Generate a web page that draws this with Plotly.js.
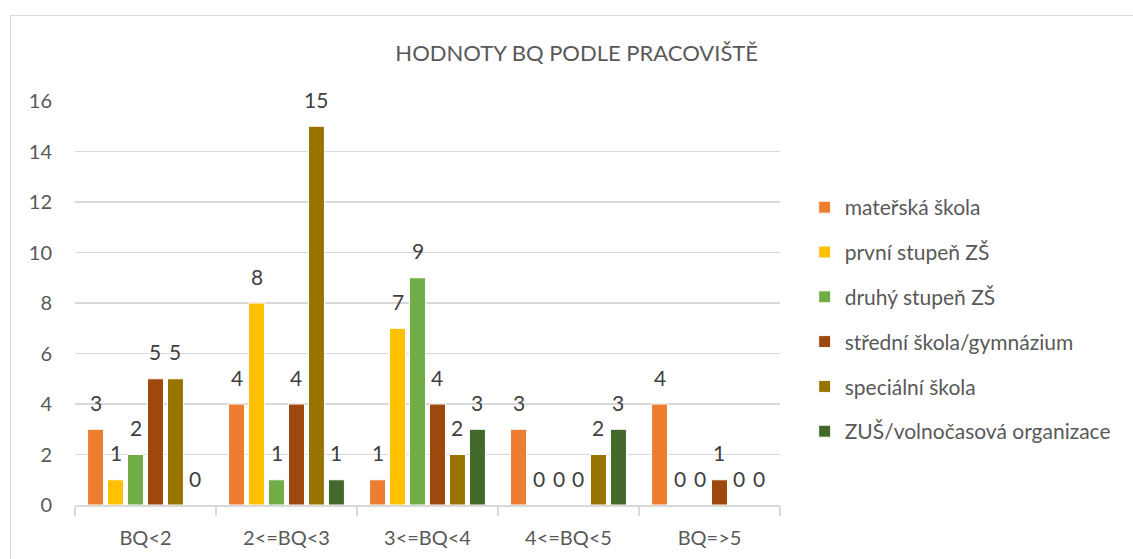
<!DOCTYPE html>
<html><head><meta charset="utf-8">
<script src="https://cdn.plot.ly/plotly-3.0.1.min.js"></script>
<style>
html,body{margin:0;padding:0;background:#fff;}
#frame{position:absolute;left:10px;top:15px;width:1140px;height:560px;border:1px solid #d9d9d9;}
#chart{position:absolute;left:0;top:0;width:1133px;height:559px;}
</style>
</head><body>
<div id="frame"></div>
<div id="chart"></div>
<script>
const categories = ["BQ<2", "2<=BQ<3", "3<=BQ<4", "4<=BQ<5", "BQ=>5"];
const seriesNames = ["mateřská škola", "první stupeň ZŠ", "druhý stupeň ZŠ", "střední škola/gymnázium", "speciální škola", "ZUŠ/volnočasová organizace"];
const materska = [3, 4, 1, 3, 4];
const prvni = [1, 8, 7, 0, 0];
const druhy = [2, 1, 9, 0, 0];
const stredni = [5, 4, 4, 0, 1];
const specialni = [5, 15, 2, 2, 0];
const zus = [0, 1, 3, 3, 0];
const colors = ["#ED7D31", "#FFC000", "#70AD47", "#9E480E", "#997300", "#43682B"];
const allValues = [materska, prvni, druhy, stredni, specialni, zus];

const font = "Lato, 'Open Sans', sans-serif";
const bargap = 0.15;
const nSeries = allValues.length;
const slot = (1 - bargap) / nSeries;

const traces = allValues.map((vals, i) => ({
  type: "bar",
  name: seriesNames[i],
  x: categories,
  y: vals,
  marker: {color: colors[i], line: {color: "#ffffff", width: 1}},
  legendgroup: "g" + i,
  hoverinfo: "x+y+name"
}));

// data labels placed above each bar through the axis scales
const annotations = [];
allValues.forEach((vals, i) => {
  vals.forEach((v, ci) => {
    annotations.push({
      xref: "x", yref: "y",
      x: ci + (i - (nSeries - 1) / 2) * slot,
      y: v,
      text: String(v),
      showarrow: false,
      yanchor: "middle",
      yshift: 27,
      font: {family: font, size: 21, color: "#404040"}
    });
  });
});

const layout = {
  width: 1133, height: 559,
  margin: {l: 75, r: 353, t: 101, b: 54},
  paper_bgcolor: "rgba(0,0,0,0)",
  plot_bgcolor: "rgba(0,0,0,0)",
  title: {text: "HODNOTY BQ PODLE PRACOVIŠTĚ", x: 0.509, xref: "container", xanchor: "center",
          y: 0.905, yref: "container", yanchor: "middle",
          font: {family: font, size: 22, color: "#595959"}},
  barmode: "group",
  bargap: bargap,
  bargroupgap: 0.2,
  xaxis: {
    type: "category",
    tickson: "boundaries",
    ticks: "outside", ticklen: 9, tickcolor: "#d9d9d9", tickwidth: 1.5,
    showline: true, linecolor: "#d9d9d9", linewidth: 1.5,
    showgrid: false,
    tickfont: {family: font, size: 20, color: "#595959"},
    ticklabelstandoff: 14
  },
  yaxis: {
    range: [0, 16], dtick: 2,
    showgrid: true, gridcolor: "#d9d9d9", gridwidth: 1.5,
    zeroline: false, showline: false,
    tickfont: {family: font, size: 20, color: "#595959"},
    ticklabelstandoff: 22
  },
  legend: {
    x: 1.035, xanchor: "left", y: 0.787, yanchor: "top",
    font: {family: font, size: 21, color: "#595959"},
    tracegroupgap: 14.5,
    itemwidth: 30
  },
  annotations: annotations,
  showlegend: true
};

Plotly.newPlot("chart", traces, layout, {staticPlot: true});
</script>
</body></html>
